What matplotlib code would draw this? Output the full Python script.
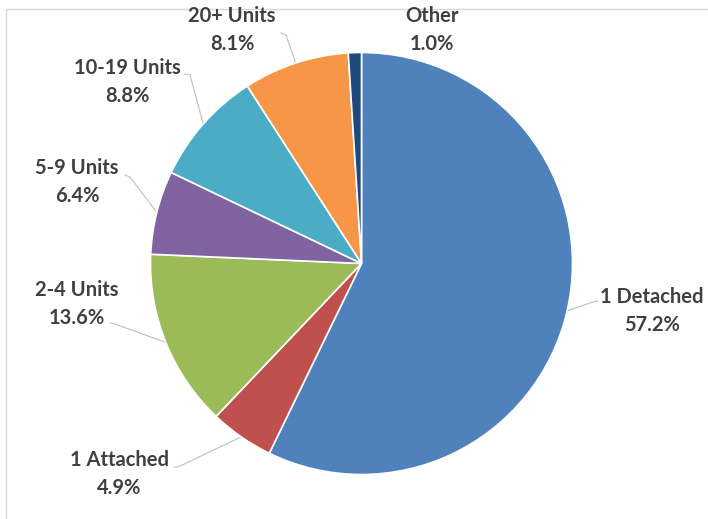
import numpy as np
import matplotlib
matplotlib.use("Agg")
from matplotlib import pyplot as plt
from matplotlib.patches import Rectangle

# housing units by type (share of total, %)
labels = ["1 Detached", "1 Attached", "2-4 Units", "5-9 Units",
          "10-19 Units", "20+ Units", "Other"]
shares = [57.2, 4.9, 13.6, 6.4, 8.8, 8.1, 1.0]
colors = ["#4F81BD", "#C0504D", "#9BBB59", "#8064A2",
          "#4BACC6", "#F79646", "#1F497D"]

W, H = 708, 519
plt.rcParams['font.family'] = ['Lato', 'DejaVu Sans']

fig = plt.figure(figsize=(W / 100, H / 100), dpi=100)
ax = fig.add_axes([0, 0, 1, 1])
ax.set_xlim(0, W)
ax.set_ylim(0, H)
ax.set_aspect('equal')
ax.axis('off')

def py(y):
    # pixel row (from top) -> data y (from bottom)
    return H - y

# frame of the chart area
ax.add_patch(Rectangle((6, -20), W + 20, py(9) + 20, fill=False,
                       edgecolor="#d9d9d9", linewidth=1))

cx, cy, r = 361.5, py(263.5), 211
wedges, _ = ax.pie(shares, colors=colors, startangle=90, counterclock=False,
                   center=(cx, cy), radius=r,
                   wedgeprops=dict(edgecolor="white", linewidth=1.2))
ax.set_xlim(0, W)
ax.set_ylim(0, H)

# label centres and leader-line start/bend points (pixels)
label_pos = [(652, 311), (119, 474), (77, 304), (77, 182),
             (127, 82), (232, 30), (432, 30)]
leaders = [[(598, 301), (593, 302)],
           [(174, 467), (178, 467)],
           [(110, 323), (115, 324)],
           [(125, 175), (130, 177)],
           [(184, 74), (190, 75)],
           [(281, 33), (286, 35)],
           None]

for w, name, val, (lx, ly), lead in zip(wedges, labels, shares, label_pos, leaders):
    ax.text(lx, py(ly), f"{name}\n{val:.1f}%", ha="center", va="center",
            fontsize=14.5, fontweight="bold", color="#404040", linespacing=1.45)
    if lead is None:
        continue
    mid = np.deg2rad((w.theta1 + w.theta2) / 2)
    ex, ey = cx + r * np.cos(mid), cy + r * np.sin(mid)
    xs = [p[0] for p in lead] + [ex]
    ys = [py(p[1]) for p in lead] + [ey]
    ax.plot(xs, ys, color="#bfbfbf", linewidth=0.8, zorder=0.5)

fig.savefig("out.png", dpi=100)
